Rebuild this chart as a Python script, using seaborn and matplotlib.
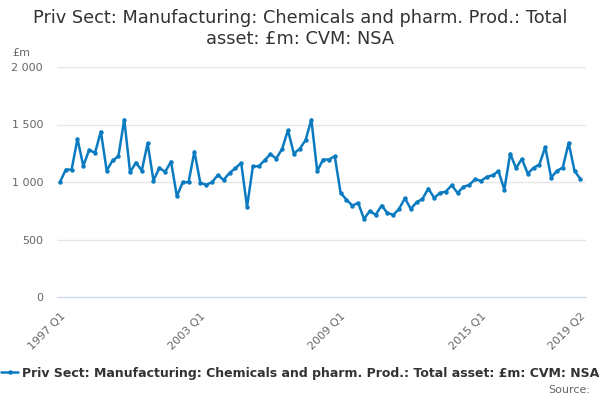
import numpy as np
import pandas as pd
import matplotlib
matplotlib.use("Agg")
import matplotlib.pyplot as plt
import seaborn as sns

# quarterly values, 1997 Q1 .. 2019 Q2 (£m)
values = [
    998, 1108, 1108, 1375, 1140, 1279, 1253, 1439, 1099, 1187,
    1224, 1543, 1085, 1169, 1099, 1337, 1012, 1123, 1088, 1178,
    876, 998, 998, 1265, 995, 975, 998, 1060, 1018, 1079,
    1120, 1166, 783, 1137, 1137, 1189, 1242, 1204, 1288, 1450,
    1247, 1288, 1363, 1543, 1094, 1195, 1195, 1224, 905, 847,
    795, 818, 679, 748, 714, 795, 731, 714, 766, 859,
    766, 824, 853, 943, 862, 905, 917, 972, 905, 957,
    975, 1024, 1010, 1044, 1059, 1094, 934, 1247, 1120, 1201,
    1073, 1123, 1152, 1305, 1039, 1097, 1126, 1340, 1097, 1027,
]
quarters = [f"{y} Q{q}" for y in range(1997, 2020) for q in range(1, 5)][:len(values)]
label_quarters = ["1997 Q1", "2003 Q1", "2009 Q1", "2015 Q1", "2019 Q2"]
series_name = "Priv Sect: Manufacturing: Chemicals and pharm. Prod.: Total asset: £m: CVM: NSA"

df = pd.DataFrame({"pos": np.arange(len(values)), "quarter": quarters, "value": values})

sns.set_style("white")
plt.rcParams["font.family"] = ["DejaVu Sans"]

fig = plt.figure(figsize=(6, 4), dpi=100)
ax = fig.add_axes([0.095, 0.2575, 0.882, 0.575])

sns.lineplot(data=df, x="pos", y="value", ax=ax, color="#0b7bc1", linewidth=1.8,
             marker="o", markersize=3.2, markeredgewidth=0, label=series_name)

ax.set_xlim(-0.5, 90)
ax.set_ylim(0, 2000)
ax.set_yticks([0, 500, 1000, 1500, 2000])
ax.set_yticklabels([f"{v:,}".replace(",", " ") for v in [0, 500, 1000, 1500, 2000]])
ax.grid(axis="y", color="#e6e6e6", linewidth=1)
ax.set_axisbelow(True)

tick_pos = list(range(0, 85, 6)) + [89]
ax.set_xticks(tick_pos)
ax.set_xticklabels([quarters[p] if quarters[p] in label_quarters else "" for p in tick_pos],
                   rotation=45, ha="right", rotation_mode="anchor")
ax.tick_params(axis="x", length=8, width=1, color="#ccd6eb", labelsize=8, labelcolor="#666666", pad=2)
ax.tick_params(axis="y", length=0, labelsize=8, labelcolor="#666666", pad=10)

for side in ["top", "right", "left"]:
    ax.spines[side].set_visible(False)
ax.spines["bottom"].set_color("#ccd6eb")
ax.set_xlabel("")
ax.set_ylabel("")

fig.text(0.5, 0.978, "Priv Sect: Manufacturing: Chemicals and pharm. Prod.: Total\nasset: £m: CVM: NSA",
         ha="center", va="top", fontsize=12.8, color="#333333", linespacing=1.2)
fig.text(0.02, 0.868, "£m", fontsize=8, color="#666666", va="center")

leg = ax.legend(loc="center", bbox_to_anchor=(0.5, 0.067), bbox_transform=fig.transFigure,
                frameon=False, handlelength=1.4, handletextpad=0.3,
                prop={"size": 9, "weight": "bold"})
for t in leg.get_texts():
    t.set_color("#333333")

fig.text(0.983, 0.025, "Source:", ha="right", va="center", fontsize=8, color="#666666")

fig.savefig("out.png", dpi=100)
